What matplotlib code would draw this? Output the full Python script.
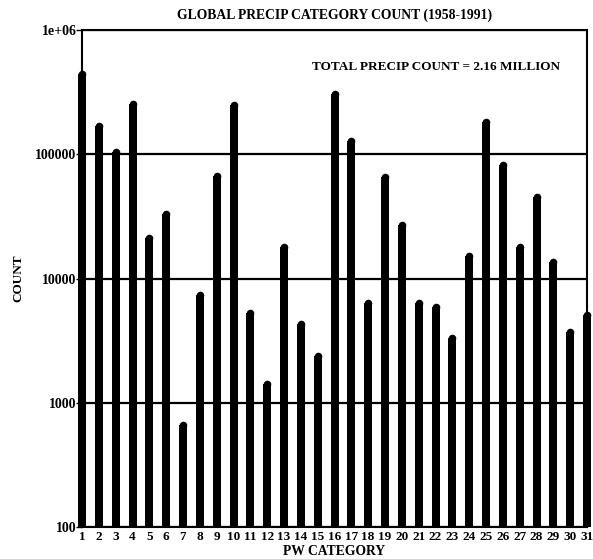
import matplotlib
matplotlib.use("Agg")
import matplotlib.pyplot as plt
from matplotlib.ticker import FixedLocator, FixedFormatter, NullLocator

plt.rcParams['font.family'] = ['Liberation Serif', 'DejaVu Serif']
plt.rcParams['font.weight'] = 'bold'

categories = list(range(1, 32))
counts = [440000, 170000, 105000, 255000, 21000, 33000, 660, 7400, 67000, 250000,
          5300, 1420, 18000, 4300, 2400, 305000, 128000, 6300, 65000, 27000,
          6400, 5950, 3350, 15300, 183000, 82000, 17800, 45500, 13700, 3700, 5100]
ytick_vals = [100, 1000, 10000, 100000, 1000000]
ytick_labels = ["100", "1000", "10000", "100000", "1e+06"]

fig = plt.figure(figsize=(5.93, 5.59), dpi=100)
ax = fig.add_axes([82 / 593, 1 - 527 / 559, (587 - 82) / 593, (527 - 30) / 559])

ax.set_yscale('log')
ax.set_ylim(100, 1e6)
ax.set_xlim(1, 31)

bar_lw = 8 * 72 / 100
ax.vlines(categories, 100, counts, colors='black', linewidth=bar_lw,
          capstyle='butt', clip_on=False, zorder=3)
ax.plot(categories, counts, 'o', color='black', markersize=bar_lw * 0.95,
        markeredgewidth=0, clip_on=False, zorder=3)

ax.yaxis.set_major_locator(FixedLocator(ytick_vals))
ax.yaxis.set_major_formatter(FixedFormatter(ytick_labels))
ax.yaxis.set_minor_locator(NullLocator())
ax.set_xticks(categories)
ax.set_xticklabels([str(c) for c in categories])

ax.tick_params(axis='y', direction='out', length=4, width=1, pad=0, labelsize=10)
ax.tick_params(axis='x', length=0, pad=3, labelsize=9.5)
ax.grid(axis='y', color='black', linewidth=1.6)
for s in ax.spines.values():
    s.set_linewidth(1.5)

ax.set_title("GLOBAL PRECIP CATEGORY COUNT (1958-1991)", fontsize=9.8,
             fontweight='bold', pad=8)
ax.set_xlabel("PW CATEGORY", fontsize=9.8, fontweight='bold', labelpad=1)
ax.set_ylabel("COUNT", fontsize=9.5, fontweight='bold', labelpad=8)
ax.text(0.9465, 0.925, "TOTAL PRECIP COUNT = 2.16 MILLION", transform=ax.transAxes,
        ha='right', va='center', fontsize=9.5, fontweight='bold')

fig.savefig("out.png", dpi=100)
